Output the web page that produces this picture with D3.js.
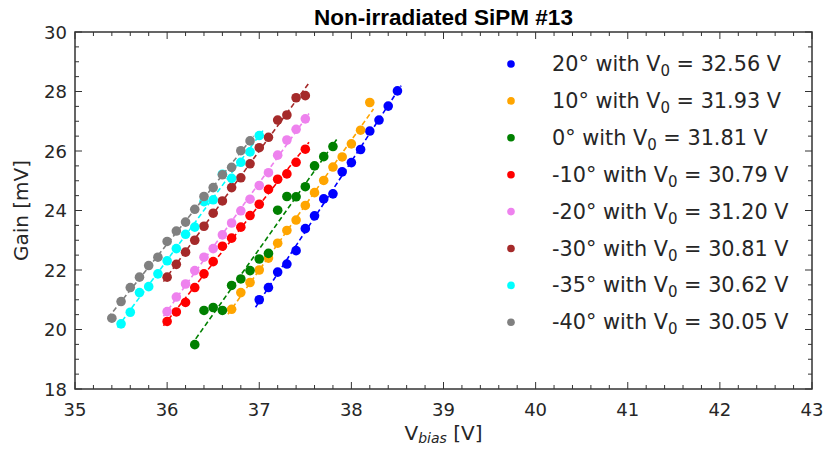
<!DOCTYPE html>
<html>
<head>
<meta charset="utf-8">
<script src="https://cdn.jsdelivr.net/npm/d3@7"></script>
<style>
  body { margin: 0; background: #fff; }
  text { font-family: "DejaVu Sans", sans-serif; fill: #262626; }
  .title { font-family: "Liberation Sans", Arial, sans-serif; font-weight: bold; fill: #000; }
</style>
</head>
<body>
<svg width="825" height="449"></svg>
<script>
const angles = ['20°', '10°', '0°', '-10°', '-20°', '-30°', '-35°', '-40°']
const v0 = ['32.56', '31.93', '31.81', '30.79', '31.20', '30.81', '30.62', '30.05']
const colors = ['blue', 'orange', 'green', 'red', 'violet', 'brown', 'cyan', 'gray']

const biasBlue = [37.0, 37.1, 37.2, 37.3, 37.4, 37.5, 37.6, 37.7, 37.8, 37.9, 38.0, 38.1, 38.2, 38.3, 38.4, 38.5]
const gainBlue = [21.0, 21.41, 21.93, 22.2, 22.65, 23.39, 23.82, 24.39, 24.56, 25.3, 25.61, 26.05, 26.67, 27.04, 27.51, 28.02]
const biasOrange = [36.7, 36.8, 36.9, 37.0, 37.1, 37.2, 37.3, 37.4, 37.5, 37.6, 37.7, 37.8, 37.9, 38.0, 38.1, 38.2]
const gainOrange = [20.68, 21.24, 21.58, 22.0, 22.4, 22.9, 23.33, 23.68, 24.17, 24.6, 25.01, 25.46, 25.8, 26.24, 26.7, 27.63]
const biasGreen = [36.3, 36.4, 36.5, 36.6, 36.7, 36.8, 36.9, 37.0, 37.1, 37.2, 37.3, 37.4, 37.5, 37.6, 37.7, 37.8]
const gainGreen = [19.49, 20.64, 20.74, 20.64, 21.48, 21.7, 21.98, 22.37, 22.56, 24.01, 24.47, 24.46, 24.8, 25.5, 25.81, 26.15]
const biasRed = [36.0, 36.1, 36.2, 36.3, 36.4, 36.5, 36.6, 36.7, 36.8, 36.9, 37.0, 37.1, 37.2, 37.3, 37.4, 37.5]
const gainRed = [20.27, 20.59, 20.91, 21.41, 21.87, 22.28, 22.8, 23.07, 23.44, 23.83, 24.21, 24.71, 25.05, 25.23, 25.62, 26.06]
const biasViolet = [36.0, 36.1, 36.2, 36.3, 36.4, 36.5, 36.6, 36.7, 36.8, 36.9, 37.0, 37.1, 37.2, 37.3, 37.4, 37.5]
const gainViolet = [20.6, 21.09, 21.53, 21.98, 22.43, 22.72, 23.18, 23.58, 23.99, 24.38, 24.84, 25.27, 25.86, 26.37, 26.73, 27.08]
const biasBrown = [36.0, 36.1, 36.2, 36.3, 36.4, 36.5, 36.6, 36.7, 36.8, 36.9, 37.0, 37.1, 37.2, 37.3, 37.4, 37.5]
const gainBrown = [21.76, 22.19, 22.6, 23.0, 23.47, 23.91, 24.32, 24.77, 25.1, 25.57, 26.11, 26.46, 27.04, 27.21, 27.79, 27.86]
const biasCyan = [35.5, 35.6, 35.7, 35.8, 35.9, 36.0, 36.1, 36.2, 36.3, 36.4, 36.5, 36.6, 36.7, 36.8, 36.9, 37.0]
const gainCyan = [20.19, 20.58, 21.24, 21.44, 21.87, 22.31, 22.72, 23.2, 23.44, 24.3, 24.36, 25.22, 25.08, 25.62, 25.97, 26.52]
const biasGray = [35.4, 35.5, 35.6, 35.7, 35.8, 35.9, 36.0, 36.1, 36.2, 36.3, 36.4, 36.5, 36.6, 36.7, 36.8, 36.9]
const gainGray = [20.38, 20.94, 21.41, 21.76, 22.15, 22.43, 22.96, 23.31, 23.61, 24.04, 24.47, 24.77, 25.2, 25.45, 26.01, 26.34]

const xTicks = [35, 36, 37, 38, 39, 40, 41, 42, 43]
const yTicks = [18, 20, 22, 24, 26, 28, 30]

const biasAll = [biasBlue, biasOrange, biasGreen, biasRed, biasViolet, biasBrown, biasCyan, biasGray]
const gainAll = [gainBlue, gainOrange, gainGreen, gainRed, gainViolet, gainBrown, gainCyan, gainGray]

const svg = d3.select('svg')
const pLeft = 75, pRight = 812, pTop = 32, pBottom = 389

const x = d3.scaleLinear().domain([35, 43]).range([pLeft, pRight])
const y = d3.scaleLinear().domain([18, 30]).range([pBottom, pTop])

// ticks, inward on all four sides
const ticksG = svg.append('g').attr('stroke', '#333').attr('stroke-width', 1)
const xMinor = d3.range(35, 43.001, 0.2)
const yMinor = d3.range(18, 30.001, 0.5)
xMinor.forEach(v => {
  const major = Math.abs(v - Math.round(v)) < 1e-6
  const len = major ? 7 : 4
  ticksG.append('line').attr('x1', x(v)).attr('x2', x(v)).attr('y1', pBottom).attr('y2', pBottom - len)
  ticksG.append('line').attr('x1', x(v)).attr('x2', x(v)).attr('y1', pTop).attr('y2', pTop + len)
})
yMinor.forEach(v => {
  const major = Math.abs(v / 2 - Math.round(v / 2)) < 1e-6
  const len = major ? 7 : 4
  ticksG.append('line').attr('y1', y(v)).attr('y2', y(v)).attr('x1', pLeft).attr('x2', pLeft + len)
  ticksG.append('line').attr('y1', y(v)).attr('y2', y(v)).attr('x1', pRight).attr('x2', pRight - len)
})

svg.append('rect')
  .attr('x', pLeft).attr('y', pTop)
  .attr('width', pRight - pLeft).attr('height', pBottom - pTop)
  .attr('fill', 'none').attr('stroke', '#333').attr('stroke-width', 1.5)

svg.selectAll('text.xt')
  .data(xTicks)
  .enter()
  .append('text')
  .attr('class', 'xt')
  .attr('x', d => x(d))
  .attr('y', pBottom + 27)
  .attr('text-anchor', 'middle')
  .attr('font-size', 18)
  .text(d => d)

svg.selectAll('text.yt')
  .data(yTicks)
  .enter()
  .append('text')
  .attr('class', 'yt')
  .attr('x', pLeft - 8)
  .attr('y', d => y(d) + 6.5)
  .attr('text-anchor', 'end')
  .attr('font-size', 18)
  .text(d => d)

// axis labels
const xl = svg.append('text')
  .attr('x', (pLeft + pRight) / 2)
  .attr('y', 440)
  .attr('text-anchor', 'middle')
  .attr('font-size', 20)
xl.append('tspan').text('V')
xl.append('tspan').attr('font-size', 14).attr('font-style', 'italic').attr('dy', 3).text('bias')
xl.append('tspan').attr('dy', -3).text(' [V]')

svg.append('text')
  .attr('transform', `translate(28, ${(pTop + pBottom) / 2}) rotate(-90)`)
  .attr('text-anchor', 'middle')
  .attr('font-size', 20)
  .text('Gain [mV]')

svg.append('text')
  .attr('class', 'title')
  .attr('x', (pLeft + pRight) / 2)
  .attr('y', 25)
  .attr('text-anchor', 'middle')
  .attr('font-size', 22.5)
  .text('Non-irradiated SiPM #13')

// series: least-squares fit line and points
const plot = svg.append('g')
colors.forEach((c, k) => {
  const bx = biasAll[k], gy = gainAll[k]
  const mx = d3.mean(bx), my = d3.mean(gy)
  const slope = d3.sum(bx, (v, i) => (v - mx) * (gy[i] - my)) / d3.sum(bx, v => (v - mx) * (v - mx))
  const x0 = d3.min(bx) - 0.04, x1 = d3.max(bx) + 0.04
  plot.append('line')
    .attr('x1', x(x0)).attr('y1', y(my + slope * (x0 - mx)))
    .attr('x2', x(x1)).attr('y2', y(my + slope * (x1 - mx)))
    .attr('stroke', c)
    .attr('stroke-width', 1.6)
    .attr('stroke-dasharray', '5,3')

  plot.selectAll('circle.s' + k)
    .data(bx)
    .enter()
    .append('circle')
    .attr('class', 's' + k)
    .attr('cx', d => x(d))
    .attr('cy', (d, i) => y(gy[i]))
    .attr('r', 4.8)
    .attr('fill', c)
})

// legend
const legend = svg.append('g')
colors.forEach((c, k) => {
  const ly = 64 + k * 36.9
  legend.append('circle').attr('cx', 511).attr('cy', ly).attr('r', 3.8).attr('fill', c)
  const t = legend.append('text').attr('x', 552).attr('y', ly + 7).attr('font-size', 20.8)
  t.append('tspan').text(angles[k] + ' with V')
  t.append('tspan').attr('font-size', 15).attr('dy', 5).text('0')
  t.append('tspan').attr('dy', -5).text(' = ' + v0[k] + ' V')
})
</script>
</body>
</html>
